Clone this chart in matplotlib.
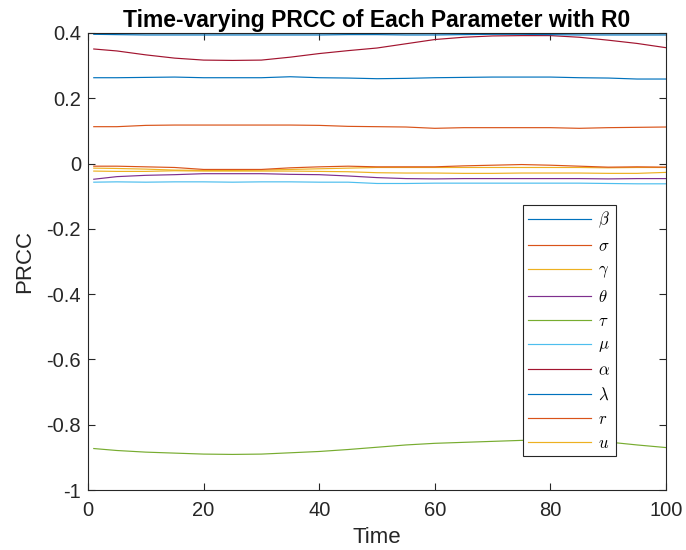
import numpy as np
import matplotlib
matplotlib.use('Agg')
import matplotlib.pyplot as plt

# ==========================================
# DATA
# ==========================================
t = [1, 5, 10, 15, 20, 25, 30, 35, 40, 45, 50, 55, 60, 65, 70, 75, 80, 85, 90, 95, 100]

prcc_beta = [0.263, 0.263, 0.264, 0.265, 0.263, 0.263, 0.263, 0.266, 0.263, 0.262, 0.260,
             0.261, 0.263, 0.264, 0.265, 0.265, 0.265, 0.263, 0.262, 0.259, 0.259]
prcc_sigma = [0.113, 0.113, 0.117, 0.118, 0.118, 0.118, 0.118, 0.118, 0.117, 0.114, 0.113,
              0.112, 0.108, 0.110, 0.110, 0.110, 0.110, 0.108, 0.110, 0.111, 0.112]
prcc_gamma = [-0.014, -0.015, -0.017, -0.020, -0.021, -0.021, -0.020, -0.018, -0.016, -0.014, -0.012,
              -0.012, -0.012, -0.012, -0.012, -0.012, -0.012, -0.012, -0.013, -0.012, -0.012]
prcc_theta = [-0.048, -0.040, -0.036, -0.034, -0.031, -0.031, -0.031, -0.033, -0.034, -0.038, -0.043,
              -0.046, -0.047, -0.046, -0.046, -0.046, -0.046, -0.046, -0.047, -0.046, -0.046]
prcc_tau = [-0.873, -0.879, -0.884, -0.887, -0.890, -0.891, -0.890, -0.886, -0.882, -0.876, -0.869,
            -0.862, -0.857, -0.854, -0.851, -0.848, -0.846, -0.847, -0.853, -0.862, -0.870]
prcc_mu = [-0.057, -0.056, -0.057, -0.056, -0.056, -0.057, -0.056, -0.056, -0.057, -0.057, -0.061,
           -0.061, -0.060, -0.060, -0.060, -0.060, -0.060, -0.060, -0.061, -0.062, -0.062]
prcc_alpha = [0.351, 0.345, 0.333, 0.323, 0.317, 0.316, 0.317, 0.326, 0.337, 0.346, 0.354,
              0.367, 0.380, 0.387, 0.391, 0.392, 0.392, 0.387, 0.378, 0.368, 0.355]
prcc_lambda = [0.396, 0.395, 0.394, 0.394, 0.394, 0.394, 0.394, 0.394, 0.394, 0.395, 0.395,
               0.394, 0.394, 0.395, 0.396, 0.396, 0.395, 0.394, 0.394, 0.394, 0.394]
prcc_r = [-0.008, -0.008, -0.010, -0.012, -0.018, -0.018, -0.018, -0.013, -0.010, -0.008, -0.010,
          -0.010, -0.010, -0.007, -0.005, -0.003, -0.005, -0.008, -0.011, -0.010, -0.011]
prcc_u = [-0.023, -0.024, -0.024, -0.022, -0.023, -0.023, -0.023, -0.023, -0.024, -0.025, -0.028,
          -0.029, -0.029, -0.030, -0.030, -0.029, -0.029, -0.029, -0.030, -0.030, -0.027]

labels = [r'$\beta$', r'$\sigma$', r'$\gamma$', r'$\theta$', r'$\tau$',
          r'$\mu$', r'$\alpha$', r'$\lambda$', r'$r$', r'$u$']
series = [prcc_beta, prcc_sigma, prcc_gamma, prcc_theta, prcc_tau,
          prcc_mu, prcc_alpha, prcc_lambda, prcc_r, prcc_u]

# MATLAB default colour order (cycles after 7)
COLORS = ['#0072BD', '#D95319', '#EDB120', '#7E2F8E', '#77AC30', '#4DBEEE', '#A2142F']

# ==========================================
# PLOT
# ==========================================
plt.rcParams['font.family'] = ['Liberation Sans', 'DejaVu Sans']
plt.rcParams['mathtext.fontset'] = 'cm'
plt.rcParams['axes.unicode_minus'] = False

fig = plt.figure(figsize=(6.86, 5.5), dpi=100)
ax = fig.add_axes([88 / 686, 1 - 490 / 550, 578 / 686, 457 / 550])

for i, (vals, lab) in enumerate(zip(series, labels)):
    ax.plot(t, vals, color=COLORS[i % 7], linewidth=0.85, label=lab)

ax.set_xlim(0, 100)
ax.set_ylim(-1, 0.4)
ax.set_xticks(np.arange(0, 101, 20))
ax.set_yticks(np.round(np.arange(-1, 0.41, 0.2), 1))
ax.set_yticklabels(['-1', '-0.8', '-0.6', '-0.4', '-0.2', '0', '0.2', '0.4'])

axis_col = '#262626'
for sp in ax.spines.values():
    sp.set_color(axis_col)
    sp.set_linewidth(0.8)
ax.tick_params(direction='in', top=True, right=True, length=5, width=0.8,
               colors=axis_col, labelsize=14.5)
ax.tick_params(axis='x', pad=8)
ax.tick_params(axis='y', pad=5)

ax.set_title('Time-varying PRCC of Each Parameter with R0', fontsize=16.5,
             fontweight='bold', pad=4)
ax.set_xlabel('Time', fontsize=16, color=axis_col, labelpad=5)
ax.set_ylabel('PRCC', fontsize=16, color=axis_col, labelpad=8)

leg = ax.legend(loc='upper left', bbox_to_anchor=(0.752, 0.624), borderaxespad=0,
                fontsize=12, fancybox=False, edgecolor=axis_col, framealpha=1,
                handlelength=3.8, handletextpad=0.45, labelspacing=0.52,
                borderpad=0.3)
leg.get_frame().set_linewidth(0.8)

fig.savefig('out.png', dpi=100)
